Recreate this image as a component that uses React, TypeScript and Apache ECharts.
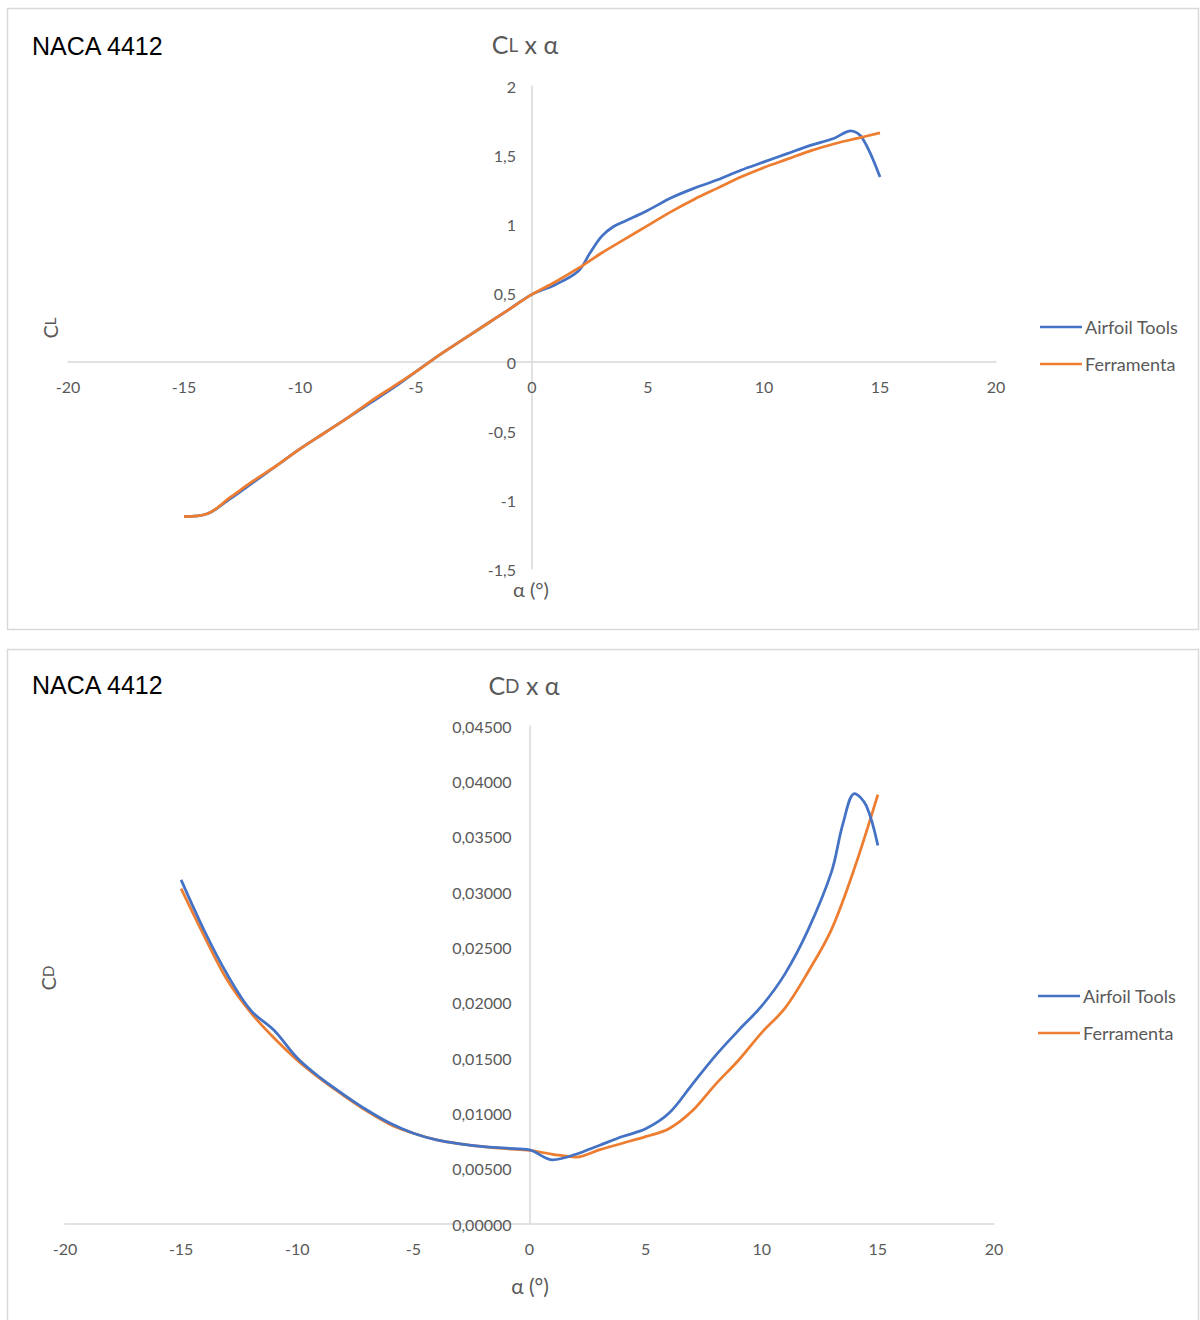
import React, { useEffect, useRef } from "react";
import * as echarts from "echarts";

// ---- Data: CL x alpha ----
const ALPHA_CL_AIRFOIL = [-15, -14, -13, -12, -11, -10, -9, -8, -7, -6, -5, -4, -3, -2, -1, 0, 1, 2, 2.5, 3, 3.5, 4, 5, 6, 7, 8, 9, 10, 11, 12, 13, 13.75, 14.25, 15];
const CL_AIRFOIL = [-1.12, -1.1, -0.99, -0.87, -0.75, -0.63, -0.52, -0.41, -0.3, -0.19, -0.07, 0.05, 0.16, 0.27, 0.38, 0.49, 0.56, 0.66, 0.79, 0.91, 0.98, 1.02, 1.1, 1.19, 1.26, 1.32, 1.39, 1.45, 1.51, 1.57, 1.62, 1.675, 1.62, 1.34];

const ALPHA_CL_TOOL = [-15, -14, -13, -12, -11, -10, -9, -8, -7, -6, -5, -4, -3, -2, -1, 0, 1, 2, 3, 4, 5, 6, 7, 8, 9, 10, 11, 12, 13, 14, 15];
const CL_TOOL = [-1.12, -1.1, -0.98, -0.86, -0.75, -0.63, -0.52, -0.41, -0.29, -0.18, -0.07, 0.05, 0.16, 0.27, 0.38, 0.49, 0.58, 0.68, 0.79, 0.89, 0.99, 1.09, 1.18, 1.26, 1.34, 1.41, 1.47, 1.53, 1.58, 1.62, 1.66];

// ---- Data: CD x alpha ----
const ALPHA_CD_AIRFOIL = [-15, -14, -13, -12, -11, -10, -9, -8, -7, -6, -5, -4, -3, -2, -1, 0, 1, 2, 3, 4, 5, 6, 7, 8, 9, 10, 11, 12, 13, 13.5, 14, 14.5, 15];
const CD_AIRFOIL = [0.0311, 0.0265, 0.0225, 0.0193, 0.0175, 0.015, 0.0132, 0.0117, 0.0103, 0.0091, 0.0082, 0.0076, 0.00725, 0.007, 0.00685, 0.0067, 0.0058, 0.0063, 0.0071, 0.0079, 0.0086, 0.01, 0.0126, 0.0152, 0.0175, 0.0197, 0.0226, 0.0266, 0.0318, 0.0362, 0.0389, 0.0378, 0.0342];

const ALPHA_CD_TOOL = [-15, -14, -13, -12, -11, -10, -9, -8, -7, -6, -5, -4, -3, -2, -1, 0, 1, 2, 3, 4, 5, 6, 7, 8, 9, 10, 11, 12, 13, 14, 15];
const CD_TOOL = [0.0303, 0.026, 0.022, 0.0191, 0.0168, 0.0148, 0.0131, 0.0116, 0.0102, 0.009, 0.0082, 0.0076, 0.00725, 0.007, 0.0068, 0.00665, 0.0063, 0.00605, 0.0067, 0.0073, 0.0079, 0.0086, 0.0102, 0.0126, 0.0148, 0.0173, 0.0195, 0.0228, 0.0266, 0.0322, 0.0388];

const SERIES_NAMES = ["Airfoil Tools", "Ferramenta"];
const X_MIN = -20;
const X_MAX = 20;
const X_STEP = 5;
const CL_MIN = -1.5;
const CL_MAX = 2;
const CL_STEP = 0.5;
const CD_MIN = 0;
const CD_MAX = 0.045;
const CD_STEP = 0.005;

const BLUE = "#4472C4";
const ORANGE = "#ED7D31";
const GREY = "#595959";
const AXIS = "#d9d9d9";
const FONT = "Lato, 'Open Sans', sans-serif";

// layout (pixels)
const G1 = { left: 68, top: 86, width: 928, height: 483 };
const G2 = { left: 65, top: 726, width: 929, height: 498 };

const pair = (xs: number[], ys: number[]) => xs.map((x, i) => [x, ys[i]]);

export default function App() {
  const ref = useRef<HTMLDivElement>(null);

  useEffect(() => {
    if (!ref.current) return;
    const chart = echarts.init(ref.current, undefined, { renderer: "svg" });

    // offsets that place each axis where the other axis is zero
    const x0Top = G1.width * ((0 - X_MIN) / (X_MAX - X_MIN));
    const y0Top = G1.height * ((CL_MAX - 0) / (CL_MAX - CL_MIN));
    const x0Bot = G2.width * ((0 - X_MIN) / (X_MAX - X_MIN));

    const xAxisBase = (gridIndex: number, offset: number) => ({
      type: "value",
      gridIndex,
      position: "bottom",
      offset,
      min: X_MIN,
      max: X_MAX,
      interval: X_STEP,
      axisLine: { show: true, onZero: false, lineStyle: { color: AXIS, width: 1.5 } },
      axisTick: { show: false },
      splitLine: { show: false },
      axisLabel: { color: GREY, fontSize: 16, fontFamily: FONT, margin: 16 },
    });

    const lineSeries = (name: string, color: string, data: number[][], idx: number, z: number) => ({
      type: "line",
      name,
      xAxisIndex: idx,
      yAxisIndex: idx,
      data,
      symbol: "none",
      showSymbol: false,
      smooth: 0.35,
      z,
      lineStyle: { color, width: 2.75 },
      itemStyle: { color },
    });

    const legendBase = (top: number, left: number) => ({
      orient: "vertical",
      left,
      top,
      data: SERIES_NAMES,
      icon: "rect",
      itemWidth: 42,
      itemHeight: 2.5,
      itemGap: 19,
      textStyle: { color: GREY, fontSize: 18, fontFamily: FONT, padding: [0, 0, 0, -2] },
    });

    const titleRich = {
      big: { fontSize: 25, fill: GREY, fontFamily: FONT },
      small: { fontSize: 19, fill: GREY, fontFamily: FONT },
    };
    const axisTitleRich = {
      big: { fontSize: 20, fill: GREY, fontFamily: FONT },
      small: { fontSize: 15, fill: GREY, fontFamily: FONT },
    };

    chart.setOption({
      animation: false,
      backgroundColor: "#ffffff",
      grid: [
        { ...G1, outerBoundsMode: "none", containLabel: false },
        { ...G2, outerBoundsMode: "none", containLabel: false },
      ],
      xAxis: [xAxisBase(0, -(G1.height - y0Top)), xAxisBase(1, 0)],
      yAxis: [
        {
          type: "value",
          gridIndex: 0,
          position: "left",
          offset: -x0Top,
          min: CL_MIN,
          max: CL_MAX,
          interval: CL_STEP,
          axisLine: { show: true, onZero: false, lineStyle: { color: AXIS, width: 1.5 } },
          axisTick: { show: false },
          splitLine: { show: false },
          axisLabel: {
            color: GREY,
            fontSize: 16,
            fontFamily: FONT,
            margin: 16,
            formatter: (v: number) => String(Math.round(v * 10) / 10).replace(".", ","),
          },
        },
        {
          type: "value",
          gridIndex: 1,
          position: "left",
          offset: -x0Bot,
          min: CD_MIN,
          max: CD_MAX,
          interval: CD_STEP,
          axisLine: { show: true, onZero: false, lineStyle: { color: AXIS, width: 1.5 } },
          axisTick: { show: false },
          splitLine: { show: false },
          axisLabel: {
            color: GREY,
            fontSize: 16,
            fontFamily: FONT,
            margin: 18,
            formatter: (v: number) => v.toFixed(5).replace(".", ","),
          },
        },
      ],
      legend: [legendBase(313, 1035), legendBase(982, 1033)],
      series: [
        lineSeries(SERIES_NAMES[0], BLUE, pair(ALPHA_CL_AIRFOIL, CL_AIRFOIL), 0, 2),
        lineSeries(SERIES_NAMES[1], ORANGE, pair(ALPHA_CL_TOOL, CL_TOOL), 0, 3),
        lineSeries(SERIES_NAMES[0], BLUE, pair(ALPHA_CD_AIRFOIL, CD_AIRFOIL), 1, 3),
        lineSeries(SERIES_NAMES[1], ORANGE, pair(ALPHA_CD_TOOL, CD_TOOL), 1, 2),
      ],
      graphic: [
        {
          type: "rect",
          z: -10,
          silent: true,
          shape: { x: 7.5, y: 8.5, width: 1191, height: 621 },
          style: { fill: "none", stroke: AXIS, lineWidth: 1.5 },
        },
        {
          type: "rect",
          z: -10,
          silent: true,
          shape: { x: 7.5, y: 649.5, width: 1191, height: 690 },
          style: { fill: "none", stroke: AXIS, lineWidth: 1.5 },
        },
        {
          type: "text",
          left: 32,
          top: 33,
          style: { text: "NACA 4412", fill: "#000000", font: "25px 'Liberation Sans', Arial, sans-serif" },
        },
        {
          type: "text",
          left: 32,
          top: 672,
          style: { text: "NACA 4412", fill: "#000000", font: "25px 'Liberation Sans', Arial, sans-serif" },
        },
        {
          type: "text",
          x: 525,
          y: 44,
          style: {
            text: "{big|C}{small|L}{big| x α}",
            textAlign: "center",
            textVerticalAlign: "middle",
            rich: titleRich,
          },
        },
        {
          type: "text",
          x: 524,
          y: 685,
          style: {
            text: "{big|C}{small|D}{big| x α}",
            textAlign: "center",
            textVerticalAlign: "middle",
            rich: titleRich,
          },
        },
        {
          type: "text",
          x: 50,
          y: 328,
          rotation: Math.PI / 2,
          style: {
            text: "{big|C}{small|L}",
            textAlign: "center",
            textVerticalAlign: "middle",
            rich: axisTitleRich,
          },
        },
        {
          type: "text",
          x: 48,
          y: 978,
          rotation: Math.PI / 2,
          style: {
            text: "{big|C}{small|D}",
            textAlign: "center",
            textVerticalAlign: "middle",
            rich: axisTitleRich,
          },
        },
        {
          type: "text",
          x: 531,
          y: 589,
          style: {
            text: "α (°)",
            fill: GREY,
            font: `20px ${FONT}`,
            textAlign: "center",
            textVerticalAlign: "middle",
          },
        },
        {
          type: "text",
          x: 530,
          y: 1285,
          style: {
            text: "α (°)",
            fill: GREY,
            font: `21px ${FONT}`,
            textAlign: "center",
            textVerticalAlign: "middle",
          },
        },
      ],
    });

    return () => chart.dispose();
  }, []);

  return (
    <div
      ref={ref}
      style={{ position: "absolute", left: 0, top: 0, width: 1200, height: 1320, background: "#fff" }}
    />
  );
}
